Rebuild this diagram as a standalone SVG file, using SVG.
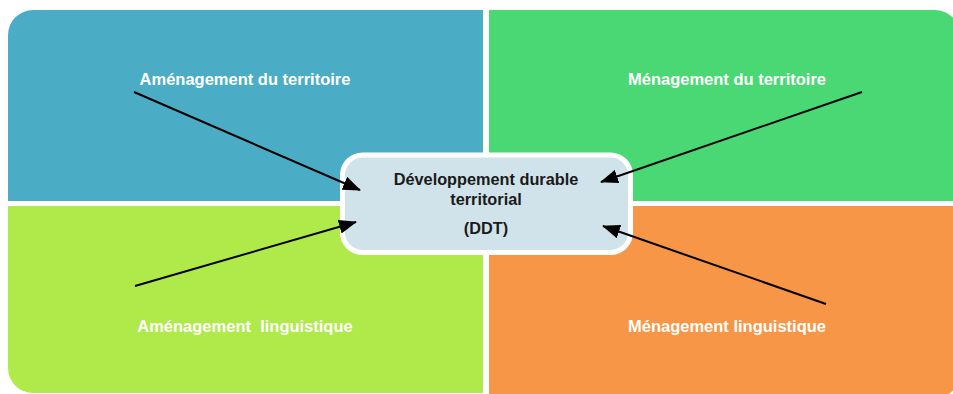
<svg xmlns="http://www.w3.org/2000/svg" width="953" height="394" viewBox="0 0 953 394">
<defs>
<marker id="ah" markerUnits="userSpaceOnUse" markerWidth="18" markerHeight="14" refX="17" refY="7" orient="auto">
<path d="M0,0 L18,7 L0,14 Z" fill="#000"/>
</marker>
<style>
.lbl{font-family:"Liberation Sans",Arial,sans-serif;font-weight:bold;font-size:16.5px;fill:#fff;text-anchor:middle;white-space:pre}
.ctr{font-family:"Liberation Sans",Arial,sans-serif;font-weight:bold;font-size:16.3px;fill:#1a1a1a;text-anchor:middle}
.conn{stroke:#000;stroke-width:2;fill:none;marker-end:url(#ah)}
</style>
</defs>
<rect width="953" height="394" fill="#fff"/>
<g id="amenagement-territoire">
<path d="M8,35 A25,25 0 0 1 33,10 L483,10 L483,201 L8,201 Z" fill="#4BACC6"/>
<text class="lbl" x="245" y="85">Aménagement du territoire</text>
</g>
<g id="menagement-territoire">
<path d="M489,10 L935,10 A25,25 0 0 1 960,35 L960,201 L489,201 Z" fill="#4AD874"/>
<text class="lbl" x="727" y="85">Ménagement du territoire</text>
</g>
<g id="amenagement-linguistique">
<path d="M8,206 L483,206 L483,393 L33,393 A25,25 0 0 1 8,368 Z" fill="#AFE94A"/>
<text class="lbl" x="245" y="332">Aménagement  linguistique</text>
</g>
<g id="menagement-linguistique">
<path d="M489,206 L960,206 L960,373 A25,25 0 0 1 935,398 L489,398 Z" fill="#F79646"/>
<text class="lbl" x="727" y="332">Ménagement linguistique</text>
</g>
<g id="ddt">
<rect x="342.5" y="155" width="288" height="97.5" rx="20" ry="20" fill="#D1E3EA" stroke="#fff" stroke-width="5"/>
<text class="ctr" x="486" y="185">Développement durable</text>
<text class="ctr" x="486" y="205">territorial</text>
<text class="ctr" x="486" y="234">(DDT)</text>
</g>
<g id="connectors">
<line class="conn" x1="134" y1="92" x2="360" y2="190"/>
<line class="conn" x1="862" y1="92" x2="601" y2="182"/>
<line class="conn" x1="135" y1="286" x2="356" y2="222"/>
<line class="conn" x1="826" y1="304" x2="603" y2="226"/>
</g>
</svg>
